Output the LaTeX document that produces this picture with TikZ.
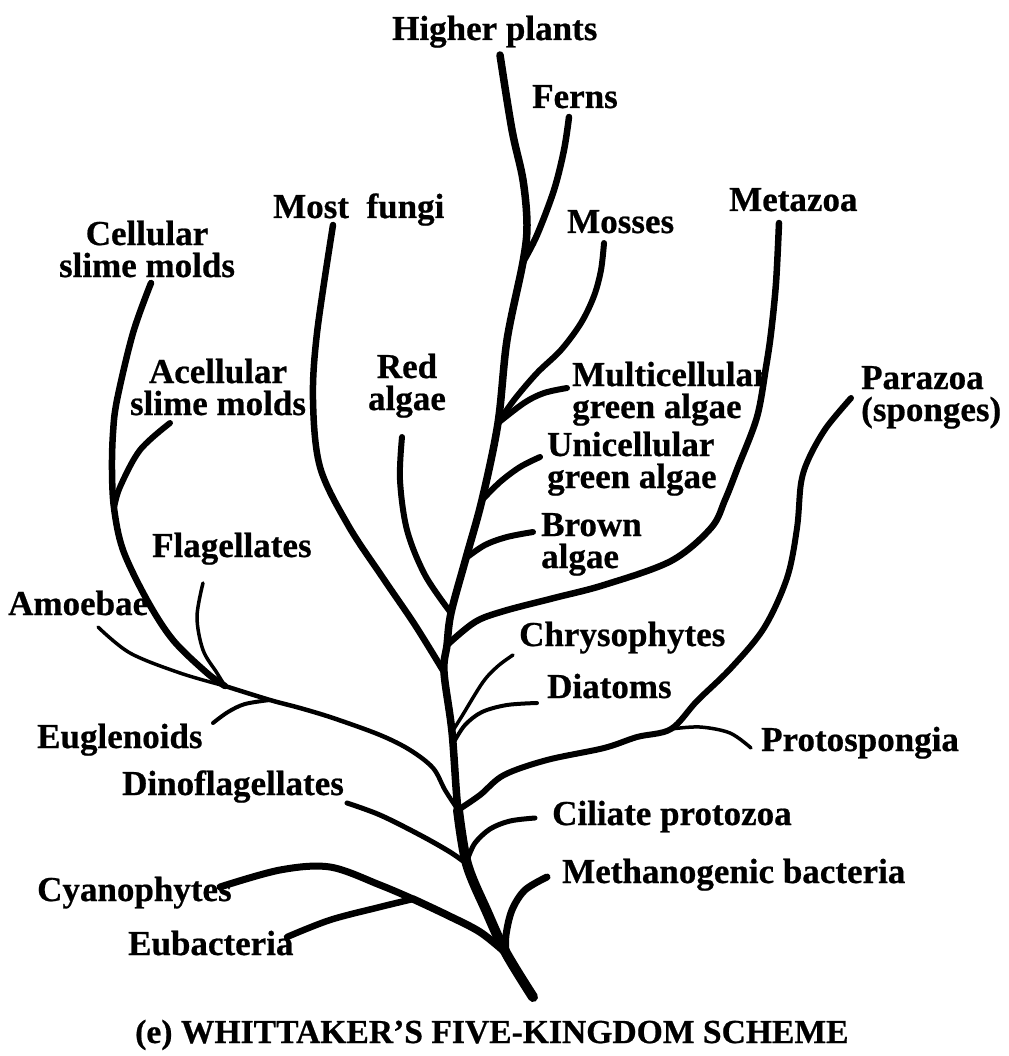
\documentclass[tikz,border=0pt]{standalone}
\usepackage{fontspec}
\setmainfont{Liberation Serif}
\newfontfamily\heavy{Liberation Serif Bold}[FakeBold=0.6,Ligatures=TeX]
\begin{document}
\begin{tikzpicture}[x=1pt,y=-1pt,
  lbl/.style={font=\heavy\fontsize{35}{32}\selectfont, inner sep=0pt, anchor=base west, align=left},
  lblc/.style={font=\heavy\fontsize{35}{32}\selectfont, inner sep=0pt, anchor=base, align=center},
  brw/.style={line width=#1, line cap=round, line join=round, black},
  sm/.style={smooth, tension=0.55}]
\useasboundingbox[fill=white] (0,0) rectangle (1008,1056);

% ---- junctions on the trunk and tips ----
\coordinate (root) at (533,997);
\coordinate (jMeth) at (506,953);
\coordinate (jDino) at (467,864);
\coordinate (jCil) at (468,858);
\coordinate (jLeft) at (458,810);
\coordinate (jDiat) at (454,742);
\coordinate (jChry) at (452,732);
\coordinate (jFungi) at (444,672);
\coordinate (jMeta) at (447,645);
\coordinate (jRed) at (451,613);
\coordinate (jBrown) at (466,558);
\coordinate (jUni) at (482,500);
\coordinate (jMulti) at (498,423);
\coordinate (jFerns) at (523,262);
\coordinate (tHigher) at (500,55);
\coordinate (tFerns) at (569,117);
\coordinate (tMosses) at (604,243);
\coordinate (tMulti) at (567,388);
\coordinate (tUni) at (540,457);
\coordinate (tBrown) at (533,532);
\coordinate (tRed) at (402,437);
\coordinate (tFungi) at (333,225);
\coordinate (tMeta) at (779,223);
\coordinate (jProto) at (671,729);
\coordinate (tPara) at (851,398);
\coordinate (tProto) at (751,748);
\coordinate (tChry) at (513,655);
\coordinate (tDiat) at (537,703);
\coordinate (tCil) at (535,818);
\coordinate (tDino) at (347,803);
\coordinate (jEugl) at (270,700);
\coordinate (jProt) at (225,686);
\coordinate (tEugl) at (213,723);
\coordinate (tAmoe) at (98,627);
\coordinate (tFlag) at (203,583);
\coordinate (jSlime) at (114,508);
\coordinate (tCell) at (151,283);
\coordinate (tAcell) at (170,423);
\coordinate (jBact) at (413,899);
\coordinate (tCyan) at (220,887);
\coordinate (tEub) at (287,937);
\coordinate (tMeth) at (547,877);

% ---- labels ----
\node[lbl] (nHigher) at (392,40) {Higher plants};
\node[lbl] (nFerns) at (532,108) {Ferns};
\node[lbl] (nFungi) at (273,218) {Most\enspace{}fungi};
\node[lbl] (nMeta) at (729,211) {Metazoa};
\node[lbl] (nMosses) at (567,233) {Mosses};
\node[lblc] (nCell) at (147,277) {Cellular\\slime molds};
\node[lblc] (nAcell) at (218,415) {Acellular\\slime molds};
\node[lblc] (nRed) at (407,410) {Red\\algae};
\node[lbl] (nMulti) at (572,418) {Multicellular\\green algae};
\node[lbl] (nPara) at (861,421) {Parazoa\\(sponges)};
\node[lbl] (nUni) at (547,488) {Unicellular\\green algae};
\node[lbl] (nBrown) at (541,568) {Brown\\algae};
\node[lbl] (nFlag) at (152,557) {Flagellates};
\node[lbl] (nAmoe) at (8,615) {Amoebae};
\node[lbl] (nChry) at (519,646) {Chrysophytes};
\node[lbl] (nDiat) at (547,698) {Diatoms};
\node[lbl] (nEugl) at (37,748) {Euglenoids};
\node[lbl] (nProto) at (761,751) {Protospongia};
\node[lbl] (nDino) at (122,795) {Dinoflagellates};
\node[lbl] (nCil) at (552,825) {Ciliate protozoa};
\node[lbl] (nMeth) at (562,883) {Methanogenic bacteria};
\node[lbl] (nCyan) at (37,901) {Cyanophytes};
\node[lbl] (nEub) at (128,955) {Eubacteria};
\node[lbl, font=\heavy\fontsize{33.6}{36}\selectfont] (nTitle) at (135,1043) {(e) WHITTAKER’S FIVE-KINGDOM SCHEME};

% ---- trunk ----
\draw[brw=7.5] plot[sm] coordinates {(root) (jMeth) (487,912) (jDino) (jLeft) (jChry) (jFungi) (jMeta) (jRed) (jBrown) (jUni) (jMulti) (507,340) (jFerns) (527,225) (523,180) (512,130) (tHigher)};
\draw[brw=10] plot[sm] coordinates {(root) (jMeth) (487,912) (jDino) (jLeft)};

% ---- upper right branches ----
\draw[brw=6.5] plot[sm] coordinates {(jFerns) (537,235) (554,190) (564,150) (tFerns)};
\draw[brw=6] plot[sm] coordinates {(jMulti) (514,400) (537,373) (561,350) (581,323) (594,296) (601,270) (tMosses)};
\draw[brw=6] plot[sm] coordinates {(jMulti) (524,403) (544,393) (tMulti)};
\draw[brw=6] plot[sm] coordinates {(jUni) (500,482) (520,467) (tUni)};
\draw[brw=6] plot[sm] coordinates {(jBrown) (485,545) (507,537) (tBrown)};
\draw[brw=6.5] plot[sm] coordinates {(jMeta) (475,622) (504,611) (554,598) (604,585) (671,561) (711,528) (725,500) (738,467) (757,417) (766,367) (771,333) (776,283) (tMeta)};
\draw[brw=6] plot[sm] coordinates {(jLeft) (480,795) (504,775) (547,760) (604,748) (637,737) (jProto) (697,701) (731,668) (764,628) (787,578) (797,528) (801,483) (809,458) (826,428) (tPara)};
\draw[brw=3.5] plot[sm] coordinates {(jProto) (700,727) (730,733) (tProto)};
\draw[brw=3.5] plot[sm] coordinates {(jChry) (462,716) (483,682) (498,666) (tChry)};
\draw[brw=4] plot[sm] coordinates {(jDiat) (465,725) (482,712) (507,705) (tDiat)};
\draw[brw=5] plot[sm] coordinates {(jCil) (475,843) (490,829) (510,821) (tCil)};

% ---- upper left branches ----
\draw[brw=6] plot[sm] coordinates {(jRed) (425,575) (407,530) (400,480) (tRed)};
\draw[brw=6.5] plot[sm] coordinates {(jFungi) (415,625) (383,578) (348,525) (320,467) (313,400) (317,333) (tFungi)};
\draw[brw=5] plot[sm] coordinates {(jDino) (450,852) (420,835) (380,815) (tDino)};
\draw[brw=4.5] plot[sm] coordinates {(jLeft) (445,790) (433,768) (410,750) (380,735) (333,718) (300,708) (jEugl) (jProt)};
\draw[brw=4] plot[sm] coordinates {(jEugl) (245,704) (228,712) (tEugl)};
\draw[brw=3.5] plot[sm] coordinates {(jProt) (180,673) (130,653) (tAmoe)};
\draw[brw=3.5] plot[sm] coordinates {(jProt) (217,673) (203,650) (197,617) (tFlag)};
\draw[brw=6.5] plot[sm] coordinates {(jProt) (207,673) (173,640) (147,600) (123,550) (jSlime) (112,470) (113,433) (117,400) (133,333) (tCell)};
\draw[brw=6] plot[sm] coordinates {(jSlime) (120,487) (140,450) (tAcell)};

% ---- bottom branches ----
\draw[brw=7] plot[sm] coordinates {(tCyan) (280,870) (330,867) (380,885) (jBact)};
\draw[brw=6.5] plot[sm] coordinates {(tEub) (330,920) (380,907) (jBact)};
\draw[brw=7.5] plot[sm] coordinates {(jBact) (447,915) (480,932) (jMeth)};
\draw[brw=7] plot[sm] coordinates {(tMeth) (525,890) (512,910) (506,935) (jMeth)};
\end{tikzpicture}
\end{document}
